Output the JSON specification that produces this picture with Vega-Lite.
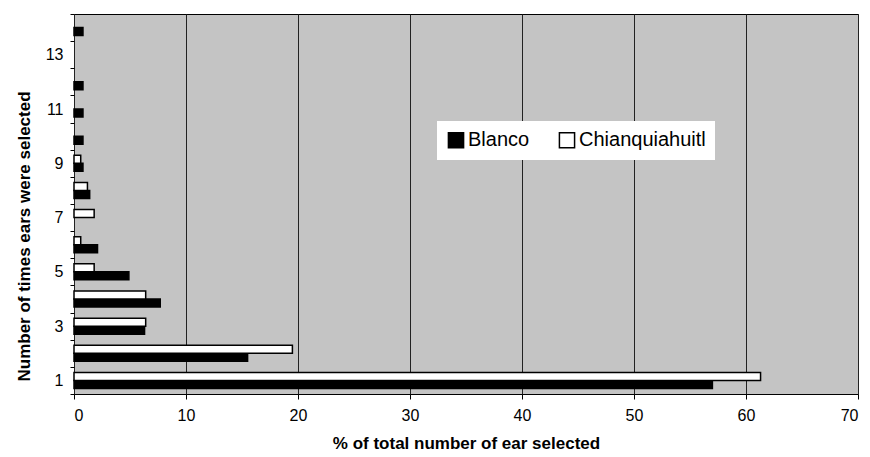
{
  "$schema": "https://vega.github.io/schema/vega-lite/v6.json",
  "width": 784,
  "height": 380,
  "autosize": "none",
  "padding": {"left": 74, "top": 14, "right": 12, "bottom": 63},
  "background": "white",
  "config": {
    "font": "Liberation Sans",
    "view": {"fill": "#c4c4c4", "stroke": "black", "strokeWidth": 1}
  },
  "data": {
    "values": [
      {"times": 1, "variety": "Blanco", "pct": 57.0},
      {"times": 2, "variety": "Blanco", "pct": 15.5},
      {"times": 3, "variety": "Blanco", "pct": 6.3},
      {"times": 4, "variety": "Blanco", "pct": 7.7},
      {"times": 5, "variety": "Blanco", "pct": 4.9},
      {"times": 6, "variety": "Blanco", "pct": 2.1},
      {"times": 8, "variety": "Blanco", "pct": 1.4},
      {"times": 9, "variety": "Blanco", "pct": 0.8},
      {"times": 10, "variety": "Blanco", "pct": 0.8},
      {"times": 11, "variety": "Blanco", "pct": 0.8},
      {"times": 12, "variety": "Blanco", "pct": 0.8},
      {"times": 14, "variety": "Blanco", "pct": 0.8},
      {"times": 1, "variety": "Chianquiahuitl", "pct": 61.3},
      {"times": 2, "variety": "Chianquiahuitl", "pct": 19.5},
      {"times": 3, "variety": "Chianquiahuitl", "pct": 6.4},
      {"times": 4, "variety": "Chianquiahuitl", "pct": 6.4},
      {"times": 5, "variety": "Chianquiahuitl", "pct": 1.8},
      {"times": 6, "variety": "Chianquiahuitl", "pct": 0.6},
      {"times": 7, "variety": "Chianquiahuitl", "pct": 1.8},
      {"times": 8, "variety": "Chianquiahuitl", "pct": 1.2},
      {"times": 9, "variety": "Chianquiahuitl", "pct": 0.6}
    ]
  },
  "mark": {"type": "bar", "stroke": "black", "strokeWidth": 1.5},
  "encoding": {
    "y": {
      "field": "times",
      "type": "ordinal",
      "scale": {"domain": [14, 13, 12, 11, 10, 9, 8, 7, 6, 5, 4, 3, 2, 1], "paddingInner": 0, "paddingOuter": 0},
      "axis": {
        "title": "Number of times ears were selected",
        "titleFont": "Liberation Sans",
        "titleFontSize": 17,
        "titleFontWeight": "bold",
        "titleColor": "black",
        "titlePadding": 12,
        "titleY": 222,
        "labelExpr": "datum.value % 2 == 1 ? datum.label : ''",
        "labelFontSize": 16,
        "labelColor": "black",
        "labelPadding": 7,
        "labelAngle": 0,
        "tickBand": "extent",
        "tickSize": 4,
        "tickColor": "black",
        "domain": false,
        "grid": false
      }
    },
    "yOffset": {
      "field": "variety",
      "type": "nominal",
      "sort": ["Chianquiahuitl", "Blanco"],
      "scale": {"paddingInner": 0, "paddingOuter": 0.7}
    },
    "x": {
      "field": "pct",
      "type": "quantitative",
      "scale": {"domain": [0, 70], "nice": false},
      "axis": {
        "title": "% of total number of ear selected",
        "titleFont": "Liberation Sans",
        "titleFontSize": 17,
        "titleFontWeight": "bold",
        "titleColor": "black",
        "titlePadding": 12,
        "values": [0, 10, 20, 30, 40, 50, 60, 70],
        "labelFontSize": 16,
        "labelColor": "black",
        "labelPadding": 8,
        "tickSize": 5,
        "tickColor": "black",
        "domain": false,
        "grid": true,
        "gridColor": "#222222",
        "gridWidth": 1
      }
    },
    "fill": {
      "field": "variety",
      "type": "nominal",
      "scale": {"domain": ["Blanco", "Chianquiahuitl"], "range": ["black", "white"]},
      "legend": {
        "title": null,
        "orient": "none",
        "legendX": 363,
        "legendY": 107,
        "direction": "horizontal",
        "columns": 2,
        "fillColor": "white",
        "padding": 9,
        "symbolType": "square",
        "symbolSize": 230,
        "symbolStrokeColor": "black",
        "symbolStrokeWidth": 1.5,
        "labelFontSize": 20,
        "labelColor": "black",
        "labelOffset": 2,
        "columnPadding": 26
      }
    }
  }
}
